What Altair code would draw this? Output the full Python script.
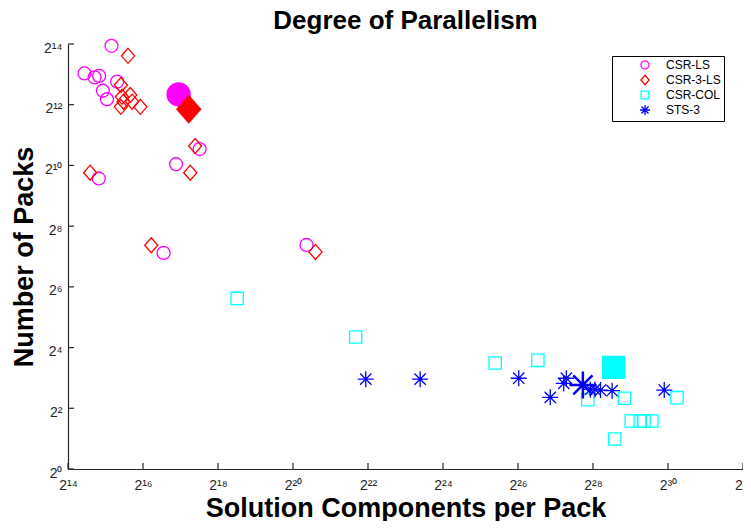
import altair as alt
import pandas as pd

FONT = "Liberation Sans"

series_names = ["CSR-LS", "CSR-3-LS", "CSR-COL", "STS-3"]
series_colors = ["#FF00FF", "#FF0000", "#00FFFF", "#0000FF"]

# log2 of values
csr_ls_x = [15.16, 14.44, 14.71, 14.83, 15.31, 14.93, 15.04, 17.51, 16.88, 14.82, 16.55, 20.36]
csr_ls_y = [13.94, 13.03, 12.90, 12.95, 12.76, 12.46, 12.18, 10.54, 10.04, 9.57, 7.12, 7.38]

csr3_x = [15.60, 15.41, 15.44, 15.48, 15.41, 15.66, 15.71, 15.93, 17.39, 17.26, 14.59, 16.22, 20.60]
csr3_y = [13.61, 12.65, 12.26, 12.10, 11.93, 12.32, 12.10, 11.93, 10.64, 9.76, 9.76, 7.37, 7.15]

csrcol_x = [18.51, 21.67, 25.39, 26.53, 27.86, 28.84, 30.24, 29.02, 29.26, 29.36, 29.57, 28.58]
csrcol_y = [5.62, 4.35, 3.49, 3.58, 2.28, 2.33, 2.35, 1.58, 1.58, 1.58, 1.58, 0.99]

sts3_x = [21.94, 23.39, 26.02, 26.86, 27.22, 27.29, 27.93, 28.05, 28.20, 28.51, 29.90]
sts3_y = [2.96, 2.96, 2.99, 2.36, 2.82, 2.99, 2.62, 2.62, 2.60, 2.58, 2.60]

# highlighted (filled, larger) point of each series
best_x = [16.95, 17.22, 28.55, 27.73]
best_y = [12.34, 11.85, 3.35, 2.77]

x_ticks = list(range(14, 33, 2))
y_ticks = list(range(0, 15, 2))

rows = []
for name, xs, ys in zip(series_names,
                        [csr_ls_x, csr3_x, csrcol_x, sts3_x],
                        [csr_ls_y, csr3_y, csrcol_y, sts3_y]):
    for a, b in zip(xs, ys):
        rows.append({"series": name, "x": 2 ** a, "y": 2 ** b})
df = pd.DataFrame(rows)
best = pd.DataFrame({"series": series_names,
                     "x": [2 ** v for v in best_x],
                     "y": [2 ** v for v in best_y]})
xt = pd.DataFrame({"x": [2 ** t for t in x_ticks]})
yt = pd.DataFrame({"y": [2 ** t for t in y_ticks]})

SUP = str.maketrans("0123456789", "⁰¹²³⁴⁵⁶⁷⁸⁹")


def label_expr(ticks):
    expr = "''"
    for t in ticks:
        expr = f"round(log(datum.value)/LN2) == {t} ? '2{str(t).translate(SUP)}' : ({expr})"
    return expr


# marker outlines, all inside the unit box so one mark size serves every series
CIRCLE = "M0.81,0A0.81,0.81,0,1,1,-0.81,0A0.81,0.81,0,1,1,0.81,0Z"
DIAMOND = "M0,-0.94L0.82,0L0,0.94L-0.82,0Z"
SQUARE = "M-0.77,-0.77L0.77,-0.77L0.77,0.77L-0.77,0.77Z"
ASTER = ("M-1,0L1,0M0,-1L0,1M-0.7071,-0.7071L0.7071,0.7071"
         "M-0.7071,0.7071L0.7071,-0.7071")
shape_range = [CIRCLE, DIAMOND, SQUARE, ASTER]

W, H = 675, 425
AXC = "#262626"
xscale = alt.Scale(type="log", base=2, domain=[2 ** 14, 2 ** 32], nice=False)
yscale = alt.Scale(type="log", base=2, domain=[1, 2 ** 14], nice=False)

color_scale = alt.Scale(domain=series_names, range=series_colors)
shape_scale = alt.Scale(domain=series_names, range=shape_range)

xaxis = alt.Axis(values=[2 ** t for t in x_ticks], labelExpr=label_expr(x_ticks),
                 ticks=False, grid=False, domain=True, domainWidth=1.2,
                 labelFontSize=14, labelFont=FONT,
                 labelColor=AXC, domainColor=AXC, labelPadding=9,
                 title="Solution Components per Pack", titleFont=FONT,
                 titleFontSize=27, titleFontWeight="bold", titleColor="black",
                 titlePadding=3, labelOverlap=False, labelFlush=False)
yaxis = alt.Axis(values=[2 ** t for t in y_ticks], labelExpr=label_expr(y_ticks),
                 ticks=False, grid=False, domain=True, domainWidth=1.2,
                 labelFontSize=14, labelFont=FONT, labelOffset=4,
                 labelColor=AXC, domainColor=AXC, labelPadding=6,
                 title="Number of Packs", titleFont=FONT,
                 titleFontSize=27, titleFontWeight="bold", titleColor="black",
                 titlePadding=5, labelOverlap=False, labelFlush=False)

X = alt.X("x:Q", scale=xscale, axis=xaxis)
Y = alt.Y("y:Q", scale=yscale, axis=yaxis)

points = alt.Chart(df).mark_point(filled=False, strokeWidth=1.3, opacity=1, size=256).encode(
    x=X, y=Y,
    color=alt.Color("series:N", scale=color_scale, sort=series_names,
                    legend=alt.Legend(title=None, orient="none", legendX=544, legendY=12,
                                      strokeColor="black", fillColor="white",
                                      padding=3, labelFont=FONT, labelFontSize=12,
                                      labelColor="black",
                                      symbolSize=100, symbolStrokeWidth=1.3,
                                      symbolOffset=24, labelOffset=15, rowPadding=0)),
    shape=alt.Shape("series:N", scale=shape_scale, sort=series_names),
)

hilite = alt.Chart(best).mark_point(filled=True, strokeWidth=2.5, opacity=1, size=730).encode(
    x=X, y=Y,
    fill=alt.Fill("series:N", scale=color_scale, legend=None),
    stroke=alt.Stroke("series:N", scale=color_scale, legend=None),
    shape=alt.Shape("series:N", scale=shape_scale, legend=None),
)

xticks = alt.Chart(xt).mark_rule(color=AXC, strokeWidth=1.2).encode(
    x=X, y=alt.value(H), y2=alt.value(H - 6),
)
yticks = alt.Chart(yt).mark_rule(color=AXC, strokeWidth=1.2).encode(
    y=Y, x=alt.value(0), x2=alt.value(6),
)

chart = alt.layer(points, hilite, xticks, yticks).resolve_scale(
    color="independent", shape="independent",
    fill="independent", stroke="independent"
).properties(
    width=W, height=H,
    title=alt.TitleParams("Degree of Parallelism", font=FONT, fontSize=26,
                          fontWeight="bold", color="black", anchor="middle", offset=3),
    autosize=alt.AutoSizeParams(type="none"),
    padding={"left": 60, "top": 36, "right": 0, "bottom": 52},
    background="white",
).configure_view(stroke=None)

chart.save("out.html", embed_options={"renderer": "svg", "actions": False})
